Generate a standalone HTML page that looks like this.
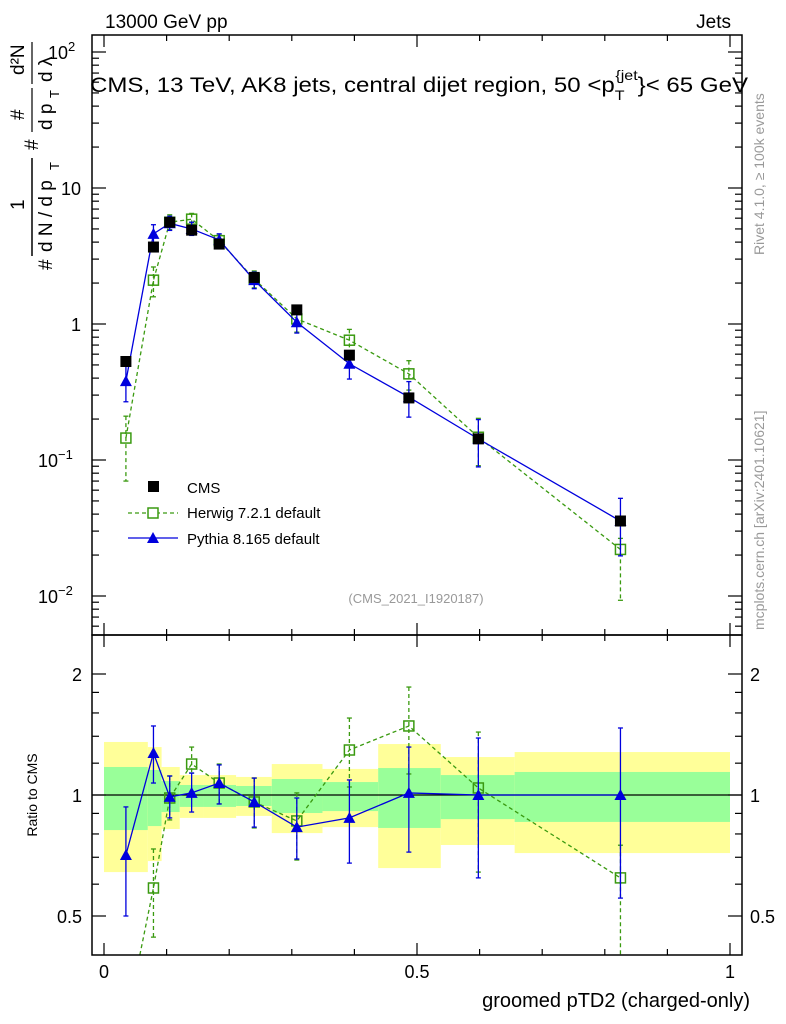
<!DOCTYPE html>
<html><head><meta charset="utf-8"><style>
html,body{margin:0;padding:0;background:#fff;overflow:hidden;width:786px;height:1024px;}
svg{display:block;font-family:"Liberation Sans",sans-serif;}
</style></head><body>
<svg id="chart" width="786" height="1024" viewBox="0 0 786 1024" xmlns="http://www.w3.org/2000/svg">
<defs>
<clipPath id="cm"><rect x="92" y="35" width="650" height="600"/></clipPath>
<clipPath id="cr"><rect x="92" y="635" width="650" height="320"/></clipPath>
</defs>
<g id="bands" clip-path="url(#cr)"></g>
<g id="marks"></g>
<g id="axes"></g>
<text x="105" y="28" font-size="19">13000 GeV pp</text>
<text x="731" y="28" font-size="19" text-anchor="end">Jets</text>
<text x="90" y="92" font-size="21" textLength="658" lengthAdjust="spacingAndGlyphs">CMS, 13 TeV, AK8 jets, central dijet region, 50 &lt;p<tspan font-size="14" dy="8">T</tspan><tspan font-size="14" dy="-20" dx="-8">{jet</tspan><tspan dy="12">}&lt; 65 GeV</tspan></text>
<text x="416" y="603" font-size="13" fill="#999" text-anchor="middle">(CMS_2021_I1920187)</text>
<text transform="translate(764,255) rotate(-90)" font-size="14" fill="#999">Rivet 4.1.0, ≥ 100k events</text>
<text transform="translate(764,630) rotate(-90)" font-size="14" fill="#999">mcplots.cern.ch [arXiv:2401.10621]</text>
<text transform="translate(37,795) rotate(-90)" font-size="14" text-anchor="middle">Ratio to CMS</text>
<g transform="translate(52,270) rotate(-90)" font-size="19">
<text x="0" y="0">#</text><text x="18" y="0" font-size="19">d N / d p</text><text x="100" y="7" font-size="13">T</text>
<text x="120" y="-14">#</text><text x="140" y="0" font-size="19">d p</text><text x="172" y="7" font-size="13">T</text>
<text x="188" y="0" font-size="19">d λ</text>
<text x="60" y="-28">1</text><text x="150" y="-28">#</text><text x="195" y="-28">d²N</text>
<line x1="14" y1="-20" x2="112" y2="-20" stroke="#000" stroke-width="1.5"/>
<line x1="138" y1="-20" x2="182" y2="-20" stroke="#000" stroke-width="1.2"/>
<line x1="186" y1="-20" x2="228" y2="-20" stroke="#000" stroke-width="1.2"/>
</g>
<text x="750" y="1007" font-size="20" text-anchor="end">groomed pTD2 (charged-only)</text>
<g>
<rect x="148" y="481" width="11" height="11" fill="#000"/>
<text x="187" y="493" font-size="15">CMS</text>
<line x1="128" y1="513" x2="178" y2="513" stroke="#3a9a10" stroke-width="1.3" stroke-dasharray="4,3"/>
<rect x="148" y="508" width="10" height="10" fill="#fff" stroke="#3a9a10" stroke-width="1.5"/>
<text x="187" y="518" font-size="15">Herwig 7.2.1 default</text>
<line x1="128" y1="538" x2="178" y2="538" stroke="#0000dd" stroke-width="1.3"/>
<polygon points="153,532 147,543 159,543" fill="#0000dd"/>
<text x="187" y="544" font-size="15">Pythia 8.165 default</text>
</g>
</svg>
<script>
const xCenters=[0.035,0.079,0.105,0.14,0.184,0.24,0.308,0.392,0.487,0.598,0.825];
const binEdges=[0,0.07,0.092,0.121,0.159,0.211,0.268,0.349,0.438,0.538,0.656,1.0];
const cmsVals=[0.53,3.68,5.6,4.9,3.87,2.2,1.27,0.59,0.286,0.143,0.0356];
const herwigVals=[0.145,2.1,5.6,5.9,4.1,2.14,1.09,0.76,0.43,0.147,0.022];
const pythiaVals=[0.38,4.6,5.5,5.0,4.15,2.1,1.03,0.51,0.29,0.143,0.0356];
const herwigRatio=[0.27,0.587,0.983,1.194,1.071,0.961,0.862,1.294,1.485,1.041,0.622];
const herwigRatioHi=[0.39,0.734,1.115,1.316,1.194,1.102,1.012,1.554,1.856,1.434,0.75];
const herwigRatioLo=[0.13,0.443,0.867,1.134,0.950,0.828,0.689,1.047,1.128,0.643,0.2];
const pythiaRatio=[0.709,1.272,0.989,1.012,1.071,0.961,0.832,0.877,1.012,1.0,1.0];
const pythiaRatioHi=[0.934,1.485,1.115,1.134,1.188,1.102,0.983,1.090,1.316,1.386,1.468];
const pythiaRatioLo=[0.5,1.071,0.877,0.907,0.950,0.832,0.693,0.677,0.721,0.622,0.554];
const yellowHi=[1.355,1.316,1.174,1.121,1.121,1.109,1.194,1.161,1.339,1.243,1.279];
const yellowLo=[0.643,0.685,0.823,0.877,0.877,0.887,0.804,0.832,0.658,0.751,0.717];
const greenHi=[1.174,1.154,1.083,1.059,1.059,1.053,1.096,1.077,1.167,1.121,1.141];
const greenLo=[0.818,0.837,0.907,0.934,0.934,0.939,0.902,0.912,0.828,0.871,0.857];
const mainTicks=[2,1,0,-1,-2];
const ratioTicks=[0.5,1,2];
const xTickLabels=[0,0.5,1];

const NS='http://www.w3.org/2000/svg';
const X=v=>104+626*v;
const YM=v=>324-136*Math.log10(v);
const YR=r=>795-121*Math.log2(r);
function mk(parent,tag,at){const e=document.createElementNS(NS,tag);for(const k in at)e.setAttribute(k,at[k]);parent.appendChild(e);return e;}
const bands=document.getElementById('bands'),marks=document.getElementById('marks'),axes=document.getElementById('axes');
for(let i=0;i<xCenters.length;i++){
 const x0=X(binEdges[i]),x1=X(binEdges[i+1]);
 let r=mk(bands,'rect',{x:x0,y:YR(yellowHi[i]),width:x1-x0,height:YR(yellowLo[i])-YR(yellowHi[i]),fill:'#ffff99'});
 
 
 r=mk(bands,'rect',{x:x0,y:YR(greenHi[i]),width:x1-x0,height:YR(greenLo[i])-YR(greenHi[i]),fill:'#99ff99'});
 
 
}
mk(bands,'line',{x1:92,x2:742,y1:YR(1),y2:YR(1),stroke:'#000','stroke-width':1.3});
function series(clip,vals,hi,lo,Y,color,dash,marker,name){
 const g=mk(marks,'g',{'clip-path':'url(#'+clip+')'});
 
 
 if(dash!==null){mk(g,'polyline',{points:vals.map((v,i)=>X(xCenters[i])+','+Y(v)).join(' '),fill:'none',stroke:color,'stroke-width':1.3,'stroke-dasharray':dash||'none'});}
 vals.forEach((v,i)=>{
  const x=X(xCenters[i]);
  if(hi){mk(g,'line',{x1:x,x2:x,y1:Y(hi[i]),y2:Y(lo[i]),stroke:color,'stroke-width':1.3,'stroke-dasharray':dash||'none'});
   mk(g,'line',{x1:x-2.5,x2:x+2.5,y1:Y(hi[i]),y2:Y(hi[i]),stroke:color,'stroke-width':1.3});
   mk(g,'line',{x1:x-2.5,x2:x+2.5,y1:Y(lo[i]),y2:Y(lo[i]),stroke:color,'stroke-width':1.3});}
  const y=Y(v);let m;
  if(marker==='sq')m=mk(g,'rect',{x:x-5.5,y:y-5.5,width:11,height:11,fill:'#000'});
  else if(marker==='osq')m=mk(g,'rect',{x:x-5,y:y-5,width:10,height:10,fill:'none',stroke:color,'stroke-width':1.5});
  else m=mk(g,'polygon',{points:`${x},${y-6} ${x-6},${y+5} ${x+6},${y+5}`,fill:color});
  
  
 });
}
const hMainHi=herwigVals.map((v,i)=>i===0?0.21:v*herwigRatioHi[i]/herwigRatio[i]);
const hMainLo=herwigVals.map((v,i)=>i===0?0.07:i===10?0.0093:v*herwigRatioLo[i]/herwigRatio[i]);
const pMainHi=pythiaVals.map((v,i)=>v*pythiaRatioHi[i]/pythiaRatio[i]);
const pMainLo=pythiaVals.map((v,i)=>v*pythiaRatioLo[i]/pythiaRatio[i]);
series('cm',herwigVals,hMainHi,hMainLo,YM,'#3a9a10','4,3','osq','herwig-main');
series('cm',pythiaVals,pMainHi,pMainLo,YM,'#0000dd','','tri','pythia-main');
series('cm',cmsVals,null,null,YM,'#000',null,'sq','cms-main');
series('cr',herwigRatio,herwigRatioHi,herwigRatioLo,YR,'#3a9a10','4,3','osq','herwig-ratio');
series('cr',pythiaRatio,pythiaRatioHi,pythiaRatioLo,YR,'#0000dd','','tri','pythia-ratio');
mk(axes,'rect',{x:92,y:35,width:650,height:600,fill:'none',stroke:'#000','stroke-width':1.5});
mk(axes,'rect',{x:92,y:635,width:650,height:320,fill:'none',stroke:'#000','stroke-width':1.5});
function tk(x1,y1,x2,y2){mk(axes,'line',{x1:x1,y1:y1,x2:x2,y2:y2,stroke:'#000','stroke-width':1.2});}
for(let k=0;k<=10;k++){const x=X(k/10),L=(k%5===0)?12:6;
 tk(x,35,x,35+L);tk(x,635,x,635-L);tk(x,635,x,635+L);tk(x,955,x,955-L);}
xTickLabels.forEach(v=>{const t=mk(axes,'text',{x:X(v),y:978,'font-size':18,'text-anchor':'middle'});t.textContent=String(v);
 
 });
for(let d=-3;d<=2;d++){for(let m=1;m<10;m++){const y=YM(m*Math.pow(10,d));if(y<35||y>635)continue;const L=m===1?14:7;tk(92,y,92+L,y);tk(742,y,742-L,y);}}
mainTicks.forEach(e=>{const y=YM(Math.pow(10,e));const t=mk(axes,'text',{x:e===0?81:e===1?81:66,y:y+7,'font-size':18,'text-anchor':'end'});
 if(e===0)t.textContent='1';else if(e===1)t.textContent='10';else{t.setAttribute('text-anchor','start');t.setAttribute('x',e<0?38:48);t.textContent='10';const s=mk(t,'tspan',{dy:-8,'font-size':13});s.textContent=(e<0?'−':'')+Math.abs(e);}
 
 });
[0.5,0.6,0.7,0.8,0.9,1,1.2,1.4,1.6,1.8,2].forEach(r=>{const y=YR(r);const L=ratioTicks.includes(r)?14:7;tk(92,y,92+L,y);tk(742,y,742-L,y);});
ratioTicks.forEach(r=>{const y=YR(r)+7;
 let t=mk(axes,'text',{x:82,y:y,'font-size':18,'text-anchor':'end'});t.textContent=String(r);
 
 
 t=mk(axes,'text',{x:750,y:y,'font-size':18});t.textContent=String(r);
 
 });
</script>
</body></html>
